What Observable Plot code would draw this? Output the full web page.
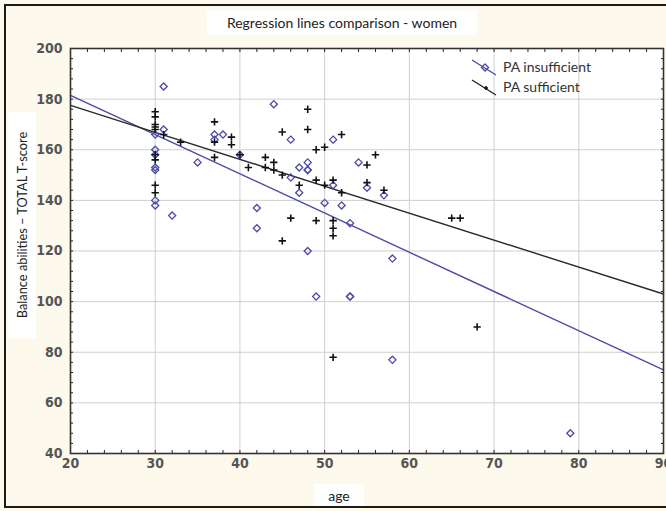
<!DOCTYPE html>
<html>
<head>
<meta charset="utf-8">
<script src="https://cdn.jsdelivr.net/npm/d3@7"></script>
<script src="https://cdn.jsdelivr.net/npm/@observablehq/plot@0.6"></script>
<style>
  html, body { margin: 0; padding: 0; background: #fdf9ec; }
  #wrap { position: relative; width: 666px; height: 511px; overflow: hidden; background: #fdf9ec; }
  #border { position: absolute; left: 4px; top: 4px; width: 700px; height: 500px; border: 2px solid #1a1a1a; box-sizing: content-box; }
  #chart { position: absolute; left: 0; top: 0; }
  .box { position: absolute; background: #fff; font-family: Lato, "Open Sans", sans-serif; color: #222; display: flex; align-items: center; justify-content: center; white-space: nowrap; }
  #title { left: 207px; top: 10px; width: 270px; height: 25px; font-size: 14px; }
  #xlabel { left: 314px; top: 484px; width: 50px; height: 22px; font-size: 14px; }
  #ylabel { left: 8px; top: 112px; width: 28px; height: 226px; }
  #ylabel span { display: block; transform: rotate(-90deg); font-size: 12.8px; }
  #legend { position: absolute; left: 470px; top: 57px; font-family: Lato, "Open Sans", sans-serif; font-size: 14px; color: #333; }
  #legend div { position: relative; height: 20px; line-height: 20px; padding-left: 33px; }
  #legend svg { position: absolute; left: 0; top: 1px; }
</style>
</head>
<body>
<div id="wrap">
  <div id="border"></div>
  <div id="chart"></div>
  <div class="box" id="title">Regression lines comparison - women</div>
  <div class="box" id="ylabel"><span>Balance abilities – TOTAL T-score</span></div>
  <div class="box" id="xlabel">age</div>
  <div id="legend">
    <div><svg width="28" height="18"><line x1="2" y1="2" x2="26" y2="17" stroke="#4b4ba8" stroke-width="1.4"/><path d="M15,6 L18.5,9.5 L15,13 L11.5,9.5 Z" fill="none" stroke="#4b4ba8" stroke-width="1.4"/></svg>PA insufficient</div>
    <div><svg width="28" height="18"><line x1="2" y1="2" x2="26" y2="17" stroke="#222" stroke-width="1.4"/><path d="M14,10 h4 M16,8 v4" stroke="#111" stroke-width="1.6"/></svg>PA sufficient</div>
  </div>
</div>
<script>
// PA insufficient (blue diamonds)
const insufficientAge   = [31, 30, 31, 30, 30, 30, 30, 30, 30, 32, 35, 37, 37, 38, 40, 42, 42, 44, 46, 46, 47, 47, 48, 48, 48, 48, 49, 50, 51, 51, 52, 53, 53, 53, 54, 55, 57, 58, 58, 79];
const insufficientScore = [185, 166, 168, 160, 158, 153, 152, 140, 138, 134, 155, 166, 164, 166, 158, 137, 129, 178, 164, 149, 153, 143, 155, 152, 152, 120, 102, 139, 164, 146, 138, 131, 102, 102, 155, 145, 142, 117, 77, 48];

// PA sufficient (black pluses)
const sufficientAge   = [30, 30, 30, 30, 30, 30, 30, 30, 30, 31, 33, 37, 37, 37, 39, 39, 40, 41, 43, 43, 44, 44, 45, 45, 45, 46, 47, 48, 48, 49, 49, 49, 50, 50, 51, 51, 51, 51, 51, 52, 52, 55, 55, 56, 57, 65, 66, 68];
const sufficientScore = [175, 173, 170, 169, 168, 158, 156, 146, 143, 166, 163, 171, 163, 157, 165, 162, 158, 153, 157, 153, 155, 152, 167, 150, 124, 133, 146, 176, 168, 160, 148, 132, 161, 146, 148, 132, 129, 126, 78, 166, 143, 154, 147, 158, 144, 133, 133, 90];

// Regression lines (at the ends of the age axis)
const fitAges = [20, 90];
const insufficientFit = [181.5, 73];
const sufficientFit = [177.5, 103];

// Axis ticks
const xMajor = [20, 30, 40, 50, 60, 70, 80, 90];
const yMajor = [40, 60, 80, 100, 120, 140, 160, 180, 200];
const xMinor = d3.range(20, 91, 2);
const yMinor = d3.range(40, 201, 4);

const blue = "#4b4ba8";
const insufficient = insufficientAge.map((a, i) => ({age: a, score: insufficientScore[i]}));
const sufficient = sufficientAge.map((a, i) => ({age: a, score: sufficientScore[i]}));
const fitIns = fitAges.map((a, i) => ({age: a, score: insufficientFit[i]}));
const fitSuf = fitAges.map((a, i) => ({age: a, score: sufficientFit[i]}));

const tickFont = {fontSize: 14, fontWeight: "bold", fill: "#555"};
const blank = () => "";

const chart = Plot.plot({
  width: 666,
  height: 511,
  marginLeft: 70,
  marginRight: 3,
  marginTop: 48,
  marginBottom: 58,
  style: {background: "transparent", fontFamily: "'DejaVu Sans Condensed', 'DejaVu Sans', sans-serif"},
  x: {domain: [20, 90]},
  y: {domain: [40, 200]},
  marks: [
    Plot.frame({fill: "white"}),
    Plot.gridX(xMajor.slice(1, -1), {stroke: "#cfcfcf", strokeOpacity: 1, strokeWidth: 1}),
    Plot.gridY(yMajor.slice(1, -1), {stroke: "#cfcfcf", strokeOpacity: 1, strokeWidth: 1}),
    Plot.line(fitIns, {x: "age", y: "score", stroke: blue, strokeWidth: 1.4}),
    Plot.line(fitSuf, {x: "age", y: "score", stroke: "#2a2a2a", strokeWidth: 1.4}),
    Plot.dot(insufficient, {x: "age", y: "score", symbol: "diamond2", r: 3.2, stroke: blue, strokeWidth: 1.3, fill: "none"}),
    Plot.dot(sufficient, {x: "age", y: "score", symbol: "plus", r: 2.5, stroke: "#111", strokeWidth: 1.6}),
    // minor / inward ticks on all four sides
    Plot.axisX(xMinor, {anchor: "bottom", tickSize: -3, tickFormat: blank, label: null, stroke: "#222"}),
    Plot.axisX(xMinor, {anchor: "top", tickSize: -3, tickFormat: blank, label: null, stroke: "#222"}),
    Plot.axisY(yMinor, {anchor: "left", tickSize: -3, tickFormat: blank, label: null, stroke: "#222"}),
    Plot.axisY(yMinor, {anchor: "right", tickSize: -3, tickFormat: blank, label: null, stroke: "#222"}),
    // labels
    Plot.axisX(xMajor, {anchor: "bottom", tickSize: 0, tickPadding: 5, label: null, ...tickFont}),
    Plot.axisY(yMajor, {anchor: "left", tickSize: 0, tickPadding: 8, label: null, ...tickFont}),
    Plot.frame({stroke: "#333", strokeWidth: 1.6})
  ]
});
document.getElementById("chart").appendChild(chart);
</script>
</body>
</html>
